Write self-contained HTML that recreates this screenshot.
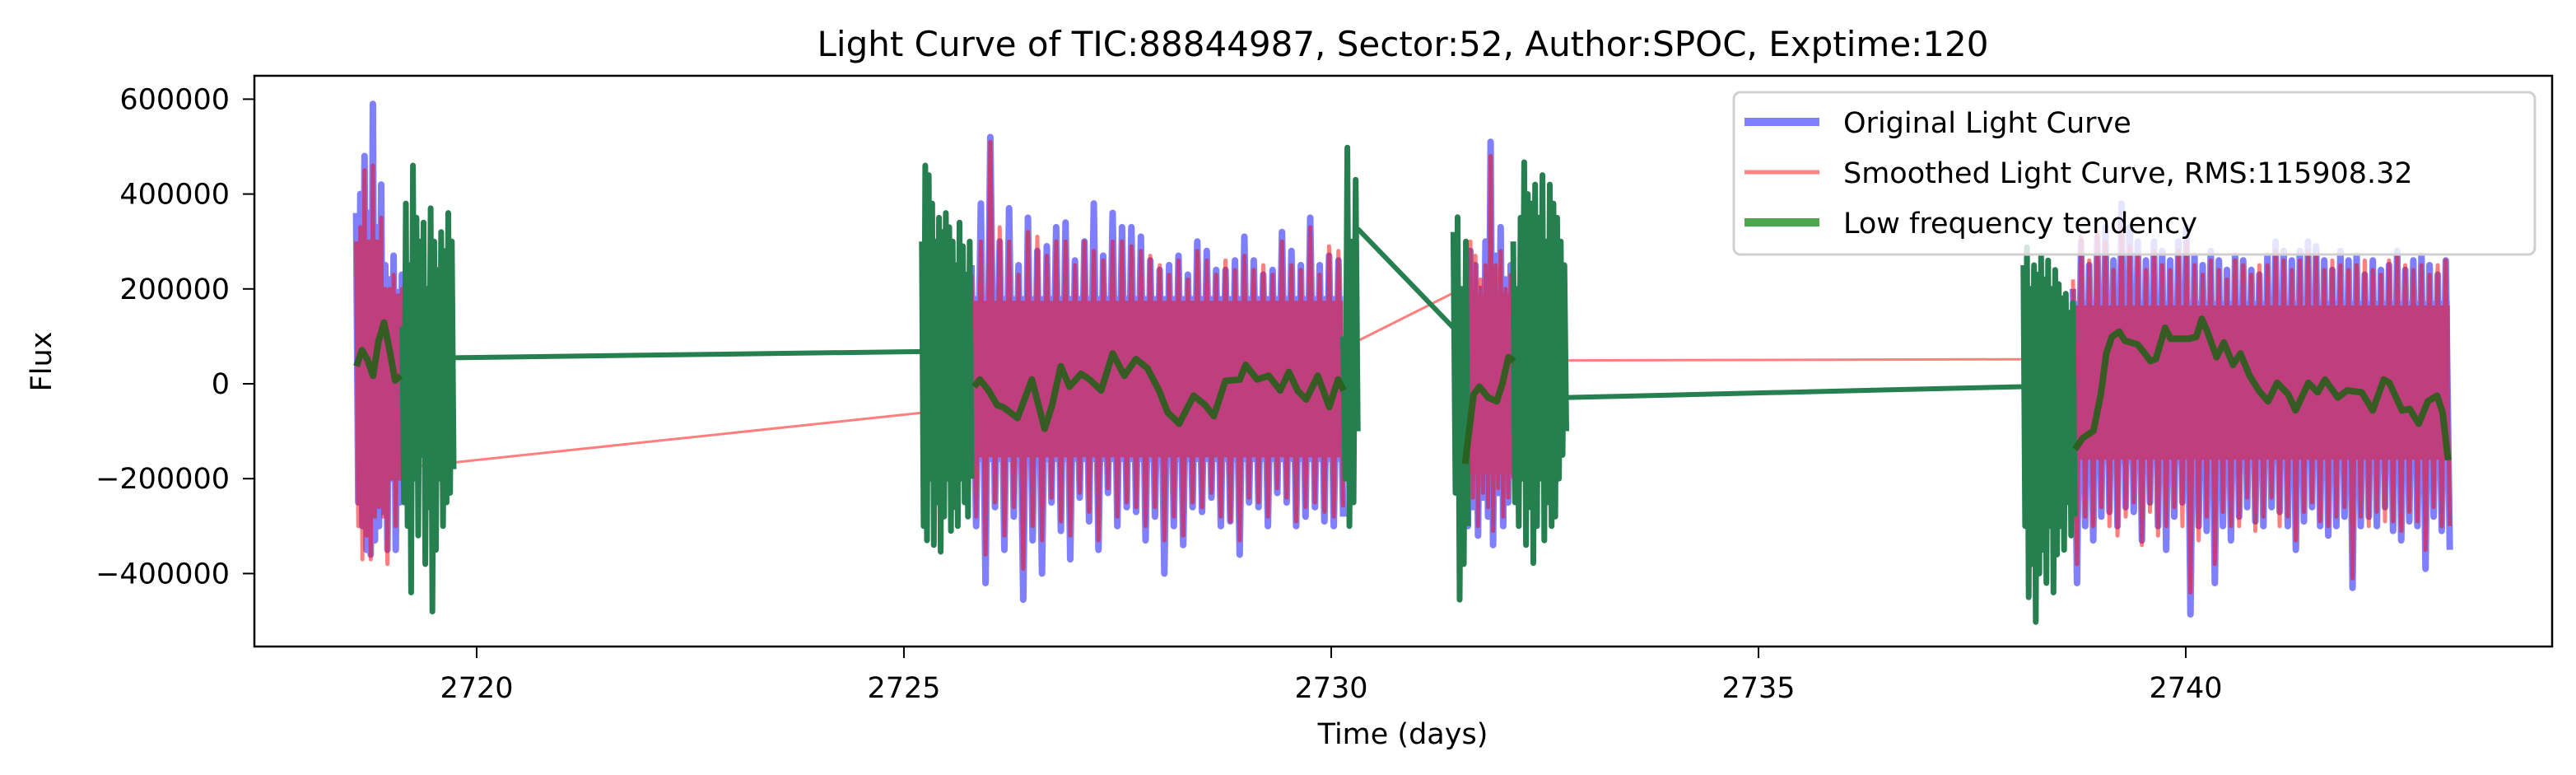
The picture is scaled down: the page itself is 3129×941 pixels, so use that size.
<!DOCTYPE html>
<html><head><meta charset="utf-8">
<style>
html,body{margin:0;padding:0;background:#fff;}
svg{display:block;font-family:"DejaVu Sans","Liberation Sans",sans-serif;}
</style></head>
<body>
<svg id="chart" width="3129" height="941" viewBox="0 0 3129 941" xmlns="http://www.w3.org/2000/svg">
<rect x="0" y="0" width="3129" height="941" fill="#fff"/>
<text x="1704" y="68" font-size="42" text-anchor="middle">Light Curve of TIC:88844987, Sector:52, Author:SPOC, Exptime:120</text>
<g id="plot"></g>
<g id="axes"></g>
<text x="1704" y="903" font-size="35" text-anchor="middle">Time (days)</text>
<text x="0" y="0" font-size="35" text-anchor="middle" transform="translate(62,439) rotate(-90)">Flux</text>
<g>
<rect x="2106" y="112" width="973" height="197" rx="8" fill="rgba(255,255,255,0.8)" stroke="#d0d0d0" stroke-width="3"/>
<line x1="2119" y1="148" x2="2210" y2="148" stroke="#8080ff" stroke-width="10"/>
<text x="2239" y="161" font-size="35">Original Light Curve</text>
<line x1="2119" y1="209" x2="2210" y2="209" stroke="#ff8080" stroke-width="5"/>
<text x="2239" y="222" font-size="35">Smoothed Light Curve, RMS:115908.32</text>
<line x1="2119" y1="270" x2="2210" y2="270" stroke="#4da64d" stroke-width="10"/>
<text x="2239" y="283" font-size="35">Low frequency tendency</text>
</g>
</svg>
<script>
const xTicks = [2720, 2725, 2730, 2735, 2740];
const yTicks = [-400000, -200000, 0, 200000, 400000, 600000];
const yTickLabels = ["\u2212400000", "\u2212200000", "0", "200000", "400000", "600000"];

const dataSegStart = [2718.59, 2725.79, 2731.57, 2738.68];
const dataSegEnd = [2719.15, 2730.14, 2732.13, 2743.09];
const coreHi = [200, 185, 200, 175];
const coreLo = [-200, -165, -200, -170];

const blueA = [360,-250,400,-300,480,-350,360,-360,590,-330,330,-300,420,-270,250,-350,220,-200,270,-350,150,-250,230,-180];
const redA = [300,-300,330,-370,450,-320,300,-370,460,-280,300,-260,350,-280,200,-380,200,-200,230,-300,150,-200,200,-150];
const blueB = [250,-300,380,-420,520,-260,300,-350,370,-280,250,-455,350,-330,280,-400,290,-250,330,-310,340,-370,260,-240,300,-290,380,-350,270,-230,360,-300,330,-260,330,-270,310,-330,260,-280,240,-400,250,-300,270,-340,230,-260,300,-270,280,-240,240,-300,240,-290,260,-360,310,-250,260,-260,230,-300,240,-230,320,-250,280,-300,250,-280,350,-260,250,-290,270,-300,260,-280];
const redB = [230,-280,300,-360,510,-250,330,-320,300,-260,230,-390,320,-300,310,-330,270,-240,300,-290,300,-320,250,-230,300,-270,280,-330,260,-220,300,-280,300,-250,290,-260,280,-300,270,-260,250,-330,230,-280,260,-320,220,-250,280,-260,260,-230,230,-280,260,-290,240,-330,270,-240,240,-250,250,-280,230,-220,300,-240,250,-290,240,-260,330,-250,230,-270,290,-280,280,-260];
const blueC = [200,-300,280,-260,250,-320,200,-240,300,-280,510,-340,270,-230,330,-300,220,-250,250,-200];
const redC = [180,-280,300,-240,270,-300,220,-230,250,-260,480,-310,250,-220,280,-280,200,-240,230,-200];
const blueD = [200,-420,300,-300,250,-330,310,-280,330,-270,260,-300,380,-260,330,-270,300,-330,260,-250,300,-300,280,-350,260,-280,300,-250,330,-486,270,-300,250,-310,280,-420,260,-300,240,-330,270,-280,260,-260,240,-290,230,-300,270,-260,300,-270,280,-300,260,-350,280,-290,300,-260,290,-300,260,-320,240,-300,280,-280,260,-430,270,-300,230,-280,260,-300,240,-260,250,-310,280,-330,240,-290,260,-300,270,-390,250,-280,230,-310,260,-350];
const redD = [220,-380,310,-280,260,-300,320,-260,300,-300,240,-320,330,-280,290,-250,270,-340,240,-270,280,-320,250,-300,240,-260,280,-300,300,-440,250,-330,230,-280,260,-380,240,-270,220,-300,260,-300,250,-240,230,-310,250,-280,250,-240,280,-300,260,-280,240,-330,260,-270,280,-250,270,-290,240,-300,260,-280,250,-260,240,-410,250,-280,260,-300,240,-270,230,-290,260,-290,270,-310,250,-270,240,-290,250,-350,230,-260,250,-300,260,-300];

const redLinkT = [[2719.15, 2725.79], [2730.14, 2731.60], [2732.13, 2738.68]];
const redLinkV = [[-177, -50], [75, 207], [49, 52]];

const trendAT = [2718.593,2718.658,2718.722,2718.787,2718.852,2718.916,2718.981,2719.045,2719.110];
const trendAV = [37,71,51,17,90,129,71,7,17];
const trendBT = [2725.822,2725.889,2725.990,2726.091,2726.160,2726.329,2726.497,2726.646,2726.734,2726.835,2726.937,2727.072,2727.173,2727.308,2727.443,2727.579,2727.714,2727.849,2727.985,2728.086,2728.221,2728.390,2728.525,2728.626,2728.761,2728.931,2728.998,2729.133,2729.269,2729.404,2729.505,2729.606,2729.707,2729.843,2729.978,2730.079,2730.147];
const trendBV = [-6,9,-14,-45,-49,-72,9,-95,-45,37,-6,21,9,-14,64,17,52,33,-14,-60,-84,-25,-45,-68,6,9,40,9,17,-14,25,-14,-33,17,-49,9,-14];
const trendCT = [2731.566,2731.667,2731.735,2731.836,2731.937,2732.006,2732.073,2732.141];
const trendCV = [-169,-22,-6,-29,-37,2,56,48];
const trendDT = [2738.704,2738.791,2738.920,2739.006,2739.070,2739.135,2739.221,2739.285,2739.436,2739.521,2739.586,2739.650,2739.758,2739.823,2740.038,2740.123,2740.188,2740.252,2740.360,2740.446,2740.554,2740.640,2740.748,2740.855,2740.962,2741.069,2741.198,2741.285,2741.435,2741.543,2741.629,2741.779,2741.887,2742.059,2742.188,2742.317,2742.382,2742.532,2742.619,2742.726,2742.833,2742.940,2743.005,2743.070];
const trendDV = [-138,-115,-99,-22,64,99,110,91,83,64,48,52,118,95,95,99,137,110,56,87,40,64,17,-14,-37,2,-22,-56,2,-18,9,-29,-14,-18,-56,9,2,-56,-53,-84,-37,-25,-60,-161];

const greenSegStart = [2719.13, 2725.21, 2730.14, 2731.43, 2732.13, 2738.10];
const greenSegEnd = [2719.73, 2725.79, 2730.31, 2731.60, 2732.75, 2738.70];
const greenA = [120,-250,380,-300,250,-440,460,-200,350,-320,300,-150,340,-380,200,-260,370,-480,300,-350,240,-200,320,-300,280,-250,360,-230,300,-180];
const greenB1 = [300,-300,460,-330,440,-200,380,-340,300,-250,350,-354,320,-280,360,-200,330,-310,300,-260,250,-300,340,-200,290,-250,230,-280,300,-200];
const greenB2 = [100,-200,498,-300,300,-250,430,-100];
const greenC1 = [320,-230,351,-455,200,-380,300,-300];
const greenC2 = [300,-250,200,-300,350,-200,467,-340,400,-260,380,-378,420,-300,350,-200,440,-330,300,-250,420,-300,380,-280,350,-200,300,-150,250,-100];
const greenD = [250,-300,288,-450,200,-380,250,-502,230,-400,270,-350,220,-420,260,-300,200,-440,240,-360,210,-300,180,-350,190,-250,150,-320,170,-280];
const greenLinkT = [[2719.73, 2725.21], [2730.31, 2731.43], [2732.75, 2738.10]];
const greenLinkV = [[55, 68], [327, 118], [-29, -6]];

const X0 = 309, X1 = 3100, Y0 = 92, Y1 = 785;
function sx(t) { return 579 + (t - 2720) * 103.8; }
function sy(kv) { return 466 - kv * 1000 / 200000 * 115.2; }
function syRaw(v) { return 466 - v / 200000 * 115.2; }

const NS = "http://www.w3.org/2000/svg";
const plot = document.getElementById('plot');
const axes = document.getElementById('axes');

const clip = document.createElementNS(NS, 'clipPath');
clip.setAttribute('id', 'clipA');
const cr = document.createElementNS(NS, 'rect');
cr.setAttribute('x', X0); cr.setAttribute('y', Y0); cr.setAttribute('width', X1 - X0); cr.setAttribute('height', Y1 - Y0);
clip.appendChild(cr);
document.getElementById('chart').appendChild(clip);
plot.setAttribute('clip-path', 'url(#clipA)');

function spikePts(vals, t0, t1) {
  const pts = [];
  const n = vals.length;
  for (let i = 0; i < n; i++) {
    const t = t0 + (t1 - t0) * i / (n - 1);
    pts.push(sx(t).toFixed(1) + ',' + sy(vals[i]).toFixed(1));
  }
  return pts;
}
function makePolyline(pts, color, width, name, parent) {
  const p = document.createElementNS(NS, 'polyline');
  p.setAttribute('points', pts.join(' '));
  p.setAttribute('fill', 'none');
  p.setAttribute('stroke', color);
  p.setAttribute('stroke-width', width);
  p.setAttribute('stroke-linejoin', 'round');
  
  
  parent.appendChild(p);
  return p;
}
function makeCore(i, color, name, parent, shrink) {
  const r = document.createElementNS(NS, 'rect');
  r.setAttribute('x', sx(dataSegStart[i]));
  r.setAttribute('width', sx(dataSegEnd[i]) - sx(dataSegStart[i]));
  r.setAttribute('y', sy(coreHi[i] - shrink));
  r.setAttribute('height', sy(coreLo[i] + shrink) - sy(coreHi[i] - shrink));
  r.setAttribute('fill', color);
  
  
  parent.appendChild(r);
}

const blueSets = [blueA, blueB, blueC, blueD];
const redSets = [redA, redB, redC, redD];

const gBlue = document.createElementNS(NS, 'g');
gBlue.setAttribute('opacity', '0.5');


plot.appendChild(gBlue);
for (let i = 0; i < 4; i++) {
  makeCore(i, '#0000ff', 'original-core-band', gBlue, 0);
  makePolyline(spikePts(blueSets[i], dataSegStart[i], dataSegEnd[i]), '#0000ff', 8, 'original-segment', gBlue);
}

const gRed = document.createElementNS(NS, 'g');
gRed.setAttribute('opacity', '0.5');


plot.appendChild(gRed);
for (let i = 0; i < 4; i++) {
  makeCore(i, '#ff0000', 'smoothed-core-band', gRed, 10);
  makePolyline(spikePts(redSets[i], dataSegStart[i], dataSegEnd[i]), '#ff0000', 5, 'smoothed-segment', gRed);
}
for (let i = 0; i < redLinkT.length; i++) {
  makePolyline([sx(redLinkT[i][0]) + ',' + sy(redLinkV[i][0]), sx(redLinkT[i][1]) + ',' + sy(redLinkV[i][1])], '#ff0000', 3, 'smoothed-gap-link', gRed);
}

const gGreen = document.createElementNS(NS, 'g');


plot.appendChild(gGreen);
const greenSets = [greenA, greenB1, greenB2, greenC1, greenC2, greenD];
const gcol = '#267f4f';
for (let i = 0; i < greenSets.length; i++) {
  makePolyline(spikePts(greenSets[i], greenSegStart[i], greenSegEnd[i]), gcol, 7, 'tendency-edge-segment', gGreen);
}
for (let i = 0; i < greenLinkT.length; i++) {
  makePolyline([sx(greenLinkT[i][0]) + ',' + sy(greenLinkV[i][0]), sx(greenLinkT[i][1]) + ',' + sy(greenLinkV[i][1])], gcol, 6, 'tendency-gap-link', gGreen);
}
const trendTs = [trendAT, trendBT, trendCT, trendDT];
const trendVs = [trendAV, trendBV, trendCV, trendDV];
for (let i = 0; i < 4; i++) {
  const pts = trendTs[i].map((t, j) => sx(t).toFixed(1) + ',' + sy(trendVs[i][j]).toFixed(1));
  makePolyline(pts, 'rgba(40,95,25,0.9)', 8, 'tendency-smooth-segment', gGreen);
}

const frame = document.createElementNS(NS, 'rect');
frame.setAttribute('x', X0); frame.setAttribute('y', Y0);
frame.setAttribute('width', X1 - X0); frame.setAttribute('height', Y1 - Y0);
frame.setAttribute('fill', 'none'); frame.setAttribute('stroke', '#000'); frame.setAttribute('stroke-width', '2.5');


axes.appendChild(frame);

xTicks.forEach(t => {
  const x = sx(t);
  const l = document.createElementNS(NS, 'line');
  l.setAttribute('x1', x); l.setAttribute('x2', x); l.setAttribute('y1', Y1); l.setAttribute('y2', Y1 + 14);
  l.setAttribute('stroke', '#000'); l.setAttribute('stroke-width', '2');
  
  
  axes.appendChild(l);
  const tx = document.createElementNS(NS, 'text');
  tx.setAttribute('x', x); tx.setAttribute('y', Y1 + 62);
  tx.setAttribute('font-size', '35'); tx.setAttribute('text-anchor', 'middle');
  tx.textContent = String(t);
  
  
  axes.appendChild(tx);
});
yTicks.forEach((v, i) => {
  const y = syRaw(v);
  const l = document.createElementNS(NS, 'line');
  l.setAttribute('x1', X0 - 14); l.setAttribute('x2', X0); l.setAttribute('y1', y); l.setAttribute('y2', y);
  l.setAttribute('stroke', '#000'); l.setAttribute('stroke-width', '2');
  
  
  axes.appendChild(l);
  const tx = document.createElementNS(NS, 'text');
  tx.setAttribute('x', X0 - 30); tx.setAttribute('y', y + 12);
  tx.setAttribute('font-size', '35'); tx.setAttribute('text-anchor', 'end');
  tx.textContent = yTickLabels[i];
  
  
  axes.appendChild(tx);
});
</script>
</body></html>
